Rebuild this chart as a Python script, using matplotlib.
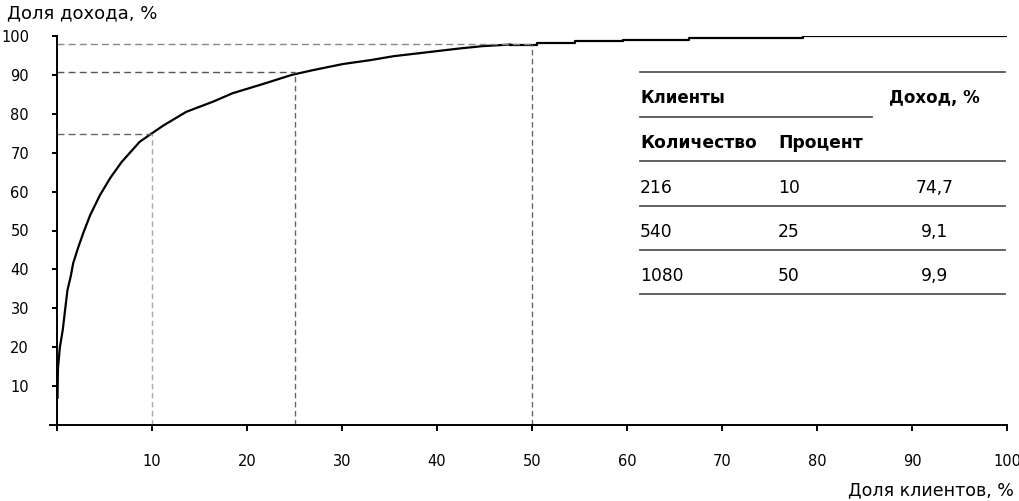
import matplotlib
matplotlib.use("Agg")
import matplotlib.pyplot as plt
from matplotlib.lines import Line2D

# Кривая концентрации дохода
head_x = [0.05, 0.1, 0.3, 0.6, 0.85, 1.1, 1.45, 1.7, 2.25, 2.8, 3.5, 4.5,
          5.6, 6.8, 8.7, 10, 11.2, 13.6, 16.4, 18.5, 22, 24.7, 26.9, 30.1,
          33, 35.4, 38.2, 40.3, 42.4, 44.8, 47.7]
head_y = [7, 14.6, 20, 24.4, 29.6, 34.7, 38.3, 41.6, 45.8, 49.6, 54, 59,
          63.5, 67.6, 72.8, 75, 77, 80.5, 83.1, 85.3, 87.9, 90.0, 91.2, 92.8,
          93.8, 94.8, 95.6, 96.2, 96.8, 97.4, 97.8]
tail_x = [47.7, 50.5, 54.5, 59.6, 66.5, 78.5, 100]
tail_y = [97.8, 98.1, 98.7, 99.1, 99.6, 100, 100]

# Отмеченные точки
mark_x = [10, 25, 50]
mark_y = [74.7, 90.7, 98.0]

# Таблица
col_heads = ["Количество", "Процент"]
table_rows = [("216", "10", "74,7"), ("540", "25", "9,1"), ("1080", "50", "9,9")]

xticks = [0, 10, 20, 30, 40, 50, 60, 70, 80, 90, 100]
yticks = [10, 20, 30, 40, 50, 60, 70, 80, 90, 100]

W, H = 1019, 501
fig = plt.figure(figsize=(W / 100, H / 100), dpi=100)
ax = fig.add_axes([49.9 / W, 1 - 425 / H, 957.1 / W, 389 / H])

ax.plot(head_x, head_y, color="black", lw=1.6)
ax.plot(tail_x, tail_y, color="black", lw=1.6, drawstyle="steps-post")

# пунктирные линии
vcolors = ["#aaaaaa", "#666666", "#666666"]
hcolors = ["#666666", "#555555", "#888888"]
for x, y, vc, hc in zip(mark_x, mark_y, vcolors, hcolors):
    ax.plot([x, x], [0, y], color=vc, lw=1, linestyle=(0, (4, 2.5)))
    ax.plot([0, x], [y, y], color=hc, lw=1, linestyle=(0, (5, 3)))

ax.set_xlim(-0.75, 100)
ax.set_ylim(0, 100)
ax.spines["left"].set_position(("data", 0))
ax.spines["top"].set_visible(False)
ax.spines["right"].set_visible(False)
for s in ["left", "bottom"]:
    ax.spines[s].set_linewidth(1.4)

ax.set_xticks(xticks)
ax.set_xticklabels([""] + [str(t) for t in xticks[1:]])
ax.set_yticks(yticks)
ax.set_yticklabels([str(t) for t in yticks])
ax.tick_params(axis="x", direction="out", length=4.3, width=1.4, pad=16.5, labelsize=10.5)
ax.tick_params(axis="y", direction="out", length=3.6, width=1.4, pad=16.5, labelsize=10.5)

fig.text(7 / W, 1 - 13 / H, "Доля дохода, %", fontsize=13, ha="left", va="center")
fig.text(1014 / W, 1 - 490 / H, "Доля клиентов, %", fontsize=12.5, ha="right", va="center")


# --- таблица в пикселях ---
def fx(px):
    return px / W


def fy(py):
    return 1 - py / H


def hline(x0, x1, py):
    fig.add_artist(Line2D([fx(x0), fx(x1)], [fy(py), fy(py)], color="#555555", lw=1.3))


hline(640, 1005, 72)
fig.text(fx(640), fy(98), "Клиенты", fontsize=12, fontweight="bold", ha="left", va="center")
fig.text(fx(934), fy(98), "Доход, %", fontsize=12, fontweight="bold", ha="center", va="center")
hline(640, 872, 117)
fig.text(fx(640), fy(143), col_heads[0], fontsize=12.3, fontweight="bold", ha="left", va="center")
fig.text(fx(778), fy(143), col_heads[1], fontsize=12.3, fontweight="bold", ha="left", va="center")
hline(640, 1005, 161)

for i, (n, p, d) in enumerate(table_rows):
    py = 188 + 44 * i
    fig.text(fx(640), fy(py), n, fontsize=12.3, ha="left", va="center")
    fig.text(fx(778), fy(py), p, fontsize=12.3, ha="left", va="center")
    fig.text(fx(935), fy(py), d, fontsize=12.3, ha="center", va="center")
    hline(640, 1005, py + 18)

fig.savefig("out.png", dpi=100)
